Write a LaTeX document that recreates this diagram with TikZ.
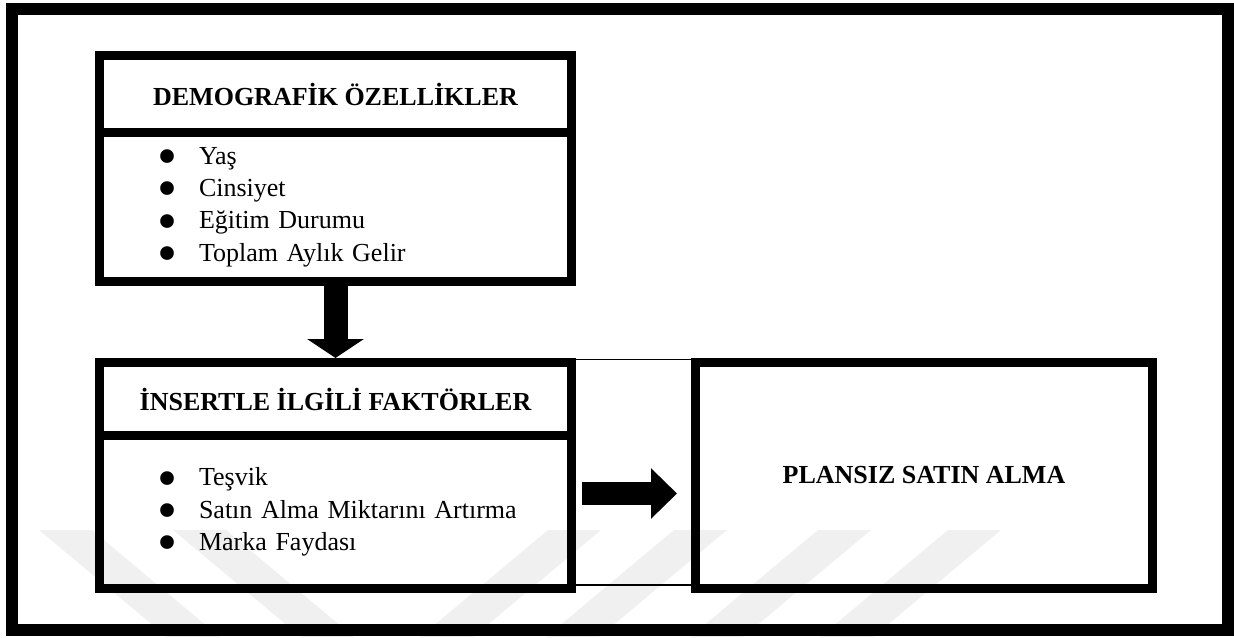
\documentclass[tikz,border=0pt]{standalone}
\usepackage{fontspec}
\setmainfont{Liberation Serif}
\usepackage{graphicx}
\usepackage{xcolor}
\usepackage{tikz}
\usetikzlibrary{arrows.meta,positioning,calc}
\definecolor{wmgray}{gray}{0.94}
\newcommand{\litem}[1]{\mbox{\makebox[21pt][l]{\smash{\raisebox{-5.6pt}{\scalebox{2.2}{\textbullet}}}}#1}}

\begin{document}
\begin{tikzpicture}[x=0.5pt,y=-0.5pt,
  heavybox/.style={draw,line width=4.5pt,outer sep=0pt,minimum width=236pt,font=\fontsize{13}{16.2}\selectfont},
  headbox/.style={heavybox,font=\fontsize{13}{16.2}\selectfont\bfseries},
  listbox/.style={heavybox,align=left,text width=178.5pt,inner xsep=28.75pt},
  blockdown/.style={line width=12pt,-{Triangle[length=9.5pt,width=28pt]}},
  blockright/.style={line width=11.5pt,-{Triangle[length=13pt,width=24.5pt]}},
  band/.style={fill=wmgray}]
  \useasboundingbox (0,0) rectangle (1234,637);
  % faint watermark stripes
  \foreach \bx in {39,173}
    \fill[band] (\bx,530) -- ++(53,0) -- ++(128,107) -- ++(-53,0) -- cycle;
  \foreach \bx in {420,546,690,820}
    \fill[band] (\bx,637) -- ++(53,0) -- ++(128,-107) -- ++(-53,0) -- cycle;
  \draw[line width=6pt] (12,9) rectangle (1228,630);

  \node[headbox,minimum height=38.5pt] (demo) at (335.5,94) {DEMOGRAFİK ÖZELLİKLER};
  \node[listbox,minimum height=74.5pt,below=0pt of demo] (demolist)
    {\litem{Yaş}\\\litem{Cinsiyet}\\\litem{Eğitim Durumu}\\\litem{Toplam Aylık Gelir}};
  \node[headbox,minimum height=36.5pt] (insert) at (335.5,399) {İNSERTLE İLGİLİ FAKTÖRLER};
  \node[listbox,minimum height=76.5pt,below=0pt of insert] (insertlist)
    {\litem{Teşvik}\\\litem{Satın Alma Miktarını Artırma}\\\litem{Marka Faydası}};
  \node[headbox,minimum width=228.5pt,minimum height=113pt,
        right=62pt of insert.north east,anchor=north west] (plan) {PLANSIZ SATIN ALMA};
  \draw[line width=0.75pt] ([yshift=1.5pt]insert.north east) rectangle ([yshift=1.75pt]plan.south west);

  \draw[blockdown] (demolist.south) -- ([yshift=2.25pt]insert.north);
  \draw[blockright] ($(insert.east|-plan.west)+(10.5,18)$) -- ($(plan.west)+(-18.5,18)$);
\end{tikzpicture}
\end{document}
